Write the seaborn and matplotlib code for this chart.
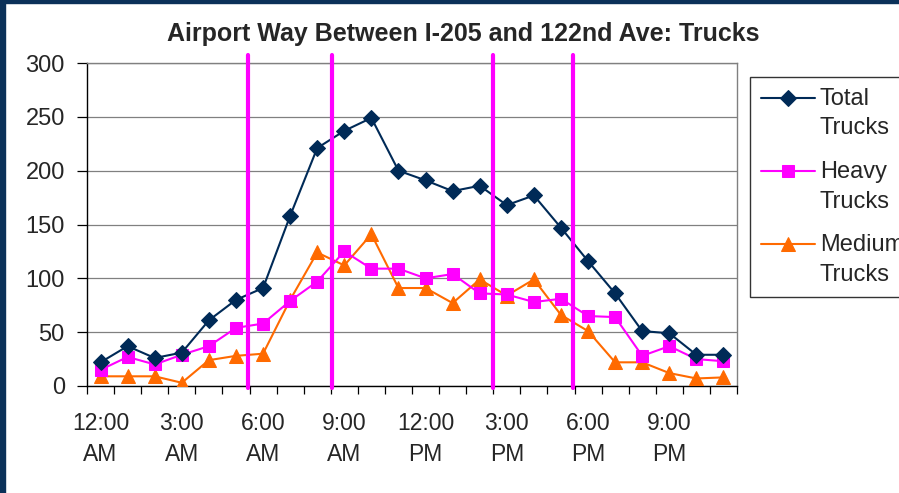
import numpy as np
import pandas as pd
import seaborn as sns
import matplotlib.pyplot as plt
from matplotlib.patches import Rectangle
from matplotlib.legend_handler import HandlerLine2D

# Hourly truck counts, midnight through 11 PM
hours = list(range(24))
total_trucks = [22, 37, 26, 31, 61, 80, 91, 158, 221, 237, 249, 200,
                191, 181, 186, 168, 177, 147, 116, 86, 51, 49, 29, 29]
heavy_trucks = [15, 27, 20, 29, 37, 54, 58, 79, 97, 125, 109, 109,
                100, 104, 86, 85, 78, 81, 65, 64, 28, 37, 25, 23]
medium_trucks = [9, 9, 9, 3, 24, 28, 30, 80, 124, 112, 141, 91,
                 91, 77, 99, 84, 99, 66, 51, 22, 22, 12, 7, 8]

tick_hours = [0, 3, 6, 9, 12, 15, 18, 21]
tick_labels = ["12:00\nAM", "3:00\nAM", "6:00\nAM", "9:00\nAM",
               "12:00\nPM", "3:00\nPM", "6:00\nPM", "9:00\nPM"]

# Peak-period boundaries
period_marks = [5.45, 8.55, 14.5, 17.45]

sns.set_theme(style="white")
FONT = ["Liberation Sans", "DejaVu Sans"]
plt.rcParams["font.family"] = FONT

fig = plt.figure(figsize=(8.99, 4.93), dpi=100)
fig.patch.set_facecolor("white")
ax = fig.add_axes([87 / 899, 1 - 386 / 493, 650 / 899, 323 / 493])

df = pd.DataFrame({"hour": hours, "Total": total_trucks,
                   "Heavy": heavy_trucks, "Medium": medium_trucks})

navy = "#002a57"
magenta = "#ff00ff"
orange = "#ff6a00"

sns.lineplot(data=df, x="hour", y="Total", ax=ax, color=navy, lw=1.5,
             marker="D", markersize=8, markeredgecolor=navy,
             label="Total\nTrucks", zorder=5)
sns.lineplot(data=df, x="hour", y="Heavy", ax=ax, color=magenta, lw=1.5,
             marker="s", markersize=8.5, markeredgecolor=magenta,
             label="Heavy\nTrucks", zorder=4)
sns.lineplot(data=df, x="hour", y="Medium", ax=ax, color=orange, lw=1.5,
             marker="^", markersize=10, markeredgecolor=orange,
             label="Medium\nTrucks", zorder=3)

for xm in period_marks:
    ax.axvline(xm, ymin=-0.006, ymax=1.025, color=magenta, lw=3.0,
               clip_on=False, zorder=10)

ax.set_xlim(-0.5, 23.5)
ax.set_ylim(0, 300)
ax.set_yticks(range(0, 301, 50))
ax.yaxis.grid(True, color="#808080", lw=0.9)
ax.set_axisbelow(True)
ax.set_xlabel("")
ax.set_ylabel("")

# category boundaries carry the tick marks, labels sit at category centres
ax.set_xticks(np.arange(-0.5, 24, 1))
ax.set_xticklabels([""] * 25)
ax.set_xticks(tick_hours, minor=True)
ax.set_xticklabels(tick_labels, minor=True, fontsize=16.5, linespacing=1.45)
ax.tick_params(axis="x", which="major", length=6, width=0.9, color="black",
               direction="out", bottom=True)
ax.tick_params(axis="x", which="minor", length=0, pad=19, bottom=True)
ax.tick_params(axis="y", length=7, width=0.9, color="black", direction="out",
               left=True, pad=9, labelsize=17)

for side in ["left", "bottom"]:
    ax.spines[side].set_color("black")
    ax.spines[side].set_linewidth(1.0)
for side in ["top", "right"]:
    ax.spines[side].set_color("#808080")
    ax.spines[side].set_linewidth(1.0)

fig.text(463 / 899, 1 - 41 / 493,
         "Airport Way Between I-205 and 122nd Ave: Trucks",
         fontsize=18, fontweight="bold", ha="center", va="baseline")


class FirstLineHandler(HandlerLine2D):
    """Line handle aligned with the first line of a two-line label."""

    def __init__(self, shift, **kw):
        super().__init__(**kw)
        self.shift = shift

    def create_artists(self, legend, orig_handle, xdescent, ydescent,
                       width, height, fontsize, trans):
        return super().create_artists(legend, orig_handle, xdescent,
                                      ydescent - self.shift, width, height,
                                      fontsize, trans)


handles, labels = ax.get_legend_handles_labels()
leg = ax.legend(handles, labels, loc="upper left",
                bbox_to_anchor=(750 / 899, 1 - 77 / 493),
                bbox_transform=fig.transFigure, frameon=True, fancybox=False,
                fontsize=17, handlelength=2.3, handletextpad=0.2,
                labelspacing=0.92, borderpad=0.45, borderaxespad=0,
                handler_map={h: FirstLineHandler(23) for h in handles})
for t in leg.get_texts():
    t.set_linespacing(1.45)
leg.get_frame().set_edgecolor("black")
leg.get_frame().set_linewidth(1.0)

# dark frame strips along the left and top edges
fig.patches.append(Rectangle((0, 0), 5 / 899, 1, transform=fig.transFigure,
                             color="#0b3159", zorder=20))
fig.patches.append(Rectangle((0, 1 - 3 / 493), 1, 3 / 493,
                             transform=fig.transFigure, color="#0b3159",
                             zorder=20))

fig.savefig("out.png", dpi=100)
